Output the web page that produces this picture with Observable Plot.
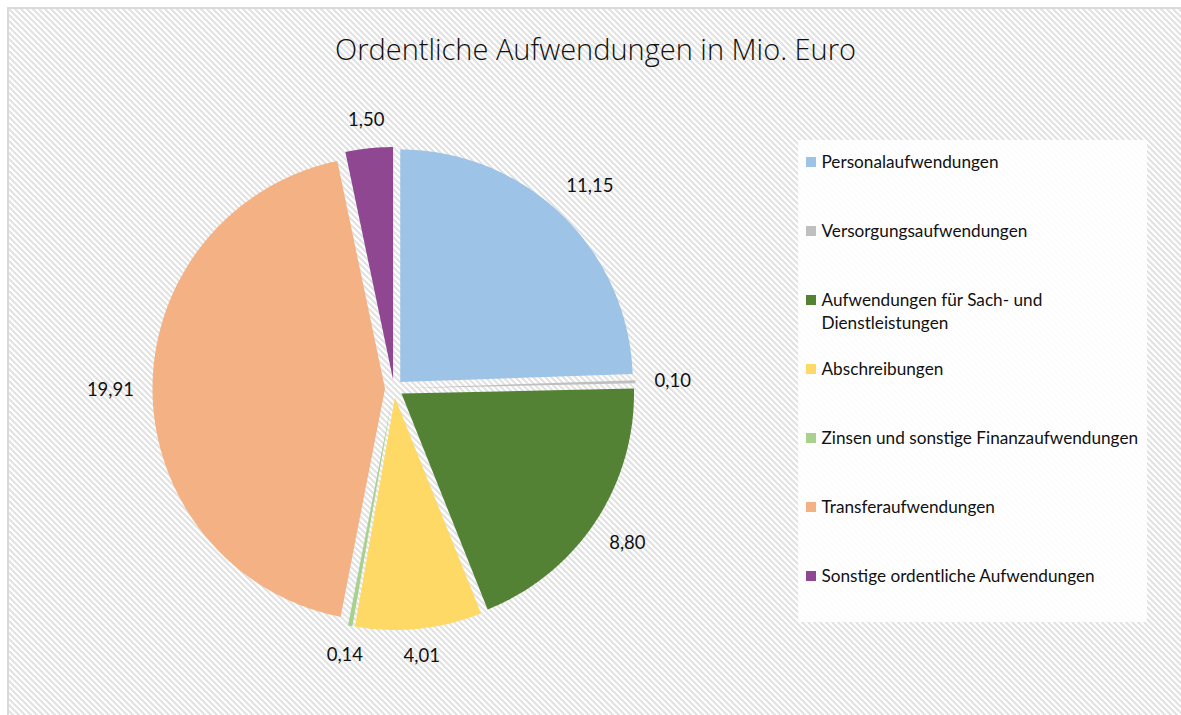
<!DOCTYPE html>
<html><head><meta charset="utf-8">
<script src="https://cdn.jsdelivr.net/npm/d3@7"></script>
<script src="https://cdn.jsdelivr.net/npm/@observablehq/plot@0.6"></script>
<style>
html,body{margin:0;padding:0;background:#fff;}
#wrap{position:relative;width:1181px;height:715px;overflow:hidden;}
#bg{position:absolute;left:7px;top:7px;right:0;bottom:0;border-left:2px solid #d9d9d9;border-top:2px solid #d9d9d9;
background-color:#fff;
background-image:url("data:image/svg+xml,%3Csvg xmlns='http://www.w3.org/2000/svg' width='6' height='6'%3E%3Cpath d='M-1,-1L7,7M-1,5L1,7M5,-1L7,1' stroke='%23e2e2e2' stroke-width='2.2'/%3E%3C/svg%3E");}
#chart{position:absolute;left:0;top:0;}
</style></head><body><div id="wrap"><div id="bg"></div><div id="chart"></div></div>
<script>
const title = "Ordentliche Aufwendungen in Mio. Euro";
const categories = ["Personalaufwendungen","Versorgungsaufwendungen","Aufwendungen für Sach- und Dienstleistungen","Abschreibungen","Zinsen und sonstige Finanzaufwendungen","Transferaufwendungen","Sonstige ordentliche Aufwendungen"];
const legendLines = [["Personalaufwendungen"],["Versorgungsaufwendungen"],["Aufwendungen für Sach- und","Dienstleistungen"],["Abschreibungen"],["Zinsen und sonstige Finanzaufwendungen"],["Transferaufwendungen"],["Sonstige ordentliche Aufwendungen"]];
const values = [11.15, 0.10, 8.80, 4.01, 0.14, 19.91, 1.50];
const colors = ["#9dc3e6","#bfbfbf","#548235","#ffd966","#a9d18e","#f4b183","#8e4790"];

const W = 1181, H = 715;
const cx = 393.5, cy = 388, R = 232.5, explode = 9, pad = 18;
const total = d3.sum(values);
let acc = 0;
const slices = values.map((v, i) => {
  const a0 = acc / total * 2 * Math.PI; acc += v;
  const a1 = acc / total * 2 * Math.PI;
  return {i, name: categories[i], value: v, a0, a1, mid: (a0 + a1) / 2};
});
const pts = [];
for (const s of slices) {
  const ox = cx + explode * Math.sin(s.mid), oy = cy - explode * Math.cos(s.mid);
  pts.push({name: s.name, x: ox, y: oy});
  const n = Math.max(2, Math.ceil((s.a1 - s.a0) / (Math.PI / 360)));
  for (let k = 0; k <= n; k++) {
    const a = s.a0 + (s.a1 - s.a0) * k / n;
    pts.push({name: s.name, x: ox + R * Math.sin(a), y: oy - R * Math.cos(a)});
  }
}
const fmt = v => v.toFixed(2).replace(".", ",");
const labels = slices.map(s => {
  const t = fmt(s.value);
  const hw = t.length * 4.8, hh = 8;
  const sn = Math.sin(s.mid), cs = Math.cos(s.mid);
  const r = R + explode + pad + hw * Math.abs(sn) + hh * Math.abs(cs);
  return {text: t, x: cx + r * sn, y: cy - r * cs};
});
const rowY = i => 162 + i * 69;
const legendSq = categories.map((c, i) => ({name: c, y: rowY(i)}));
const legendTxt = legendLines.flatMap((ls, i) => ls.map((t, j) => ({text: t, y: rowY(i) + j * 23})));

const chart = Plot.plot({
  width: W, height: H, margin: 0,
  x: {domain: [0, W], range: [0, W], axis: null},
  y: {domain: [0, H], range: [0, H], axis: null},
  color: {domain: categories, range: colors},
  style: {background: "transparent", fontFamily: "Lato, 'Open Sans', sans-serif"},
  marks: [
    Plot.text([title], {x: () => W / 2 + 4.5, y: () => 50, text: d => d, fontSize: 29, fontWeight: 300, fill: "#111", fontFamily: "'Open Sans', sans-serif"}),
    Plot.line(pts, {x: "x", y: "y", z: "name", fill: "name", stroke: "none", curve: "linear-closed"}),
    Plot.text(labels, {x: "x", y: "y", text: "text", fontSize: 18.5, fill: "#111"}),
    Plot.rect([0], {x1: () => 798, x2: () => 1147, y1: () => 140, y2: () => 622, fill: "white", fillOpacity: 0.88}),
    Plot.rect(legendSq, {x1: () => 806, x2: () => 816, y1: d => d.y - 5, y2: d => d.y + 5, fill: "name"}),
    Plot.text(legendTxt, {x: () => 821, y: "y", text: "text", textAnchor: "start", fontSize: 17.2, fill: "#111"})
  ]
});
document.getElementById("chart").appendChild(chart);
</script>
</body></html>
